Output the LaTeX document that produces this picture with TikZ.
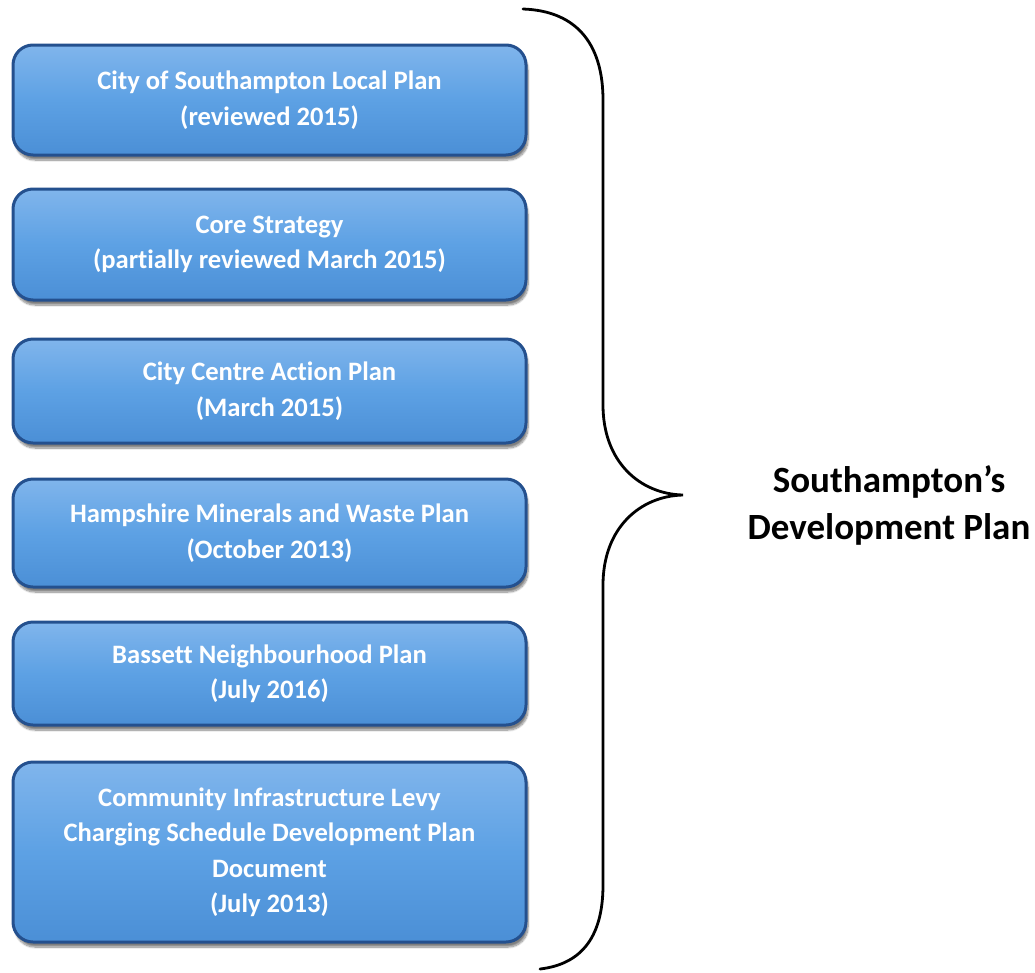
\documentclass[tikz,border=0pt]{standalone}
\usepackage{fontspec}
\setmainfont[Ligatures=NoCommon]{Carlito}
\usetikzlibrary{shadows.blur}
\definecolor{boxborder}{HTML}{24508E}
\definecolor{boxtop}{HTML}{80B5EC}
\definecolor{boxmid}{HTML}{5DA1E4}
\definecolor{boxbot}{HTML}{4B8FD6}
\tikzset{
  planbox/.style={draw=boxborder, line width=3pt, rounded corners=20pt,
    top color=boxtop, bottom color=boxbot, middle color=boxmid,
    minimum width=513pt, inner sep=0pt, align=center, text=white,
    font=\fontsize{26.6}{35.5}\selectfont\bfseries,
    blur shadow={shadow xshift=2pt, shadow yshift=-5pt, shadow blur steps=10, shadow opacity=50}},
  bracepath/.style={draw=black, line width=2.8pt, line cap=round},
  planlabel/.style={align=center, font=\fontsize{37}{47}\selectfont\bfseries, text=black}
}
\begin{document}
\begin{tikzpicture}[x=1pt,y=-1pt]
\useasboundingbox (0,0) rectangle (1035,972);
\node[planbox, minimum height=110pt] (b1) at (269.5,100) {City of Southampton Local Plan\\(reviewed 2015)};
\node[planbox, minimum height=111pt] (b2) at (269.5,244.5) {Core Strategy\\(partially reviewed March 2015)};
\node[planbox, minimum height=104pt] (b3) at (269.5,391) {City Centre Action Plan\\(March 2015)};
\node[planbox, minimum height=108pt] (b4) at (269.5,533) {Hampshire Minerals and Waste Plan\\(October 2013)};
\node[planbox, minimum height=103pt] (b5) at (269.5,673.5) {Bassett Neighbourhood Plan\\(July 2016)};
\node[planbox, minimum height=180pt] (b6) at (269.5,852) {Community Infrastructure Levy\\Charging Schedule Development Plan\\Document\\(July 2013)};
\coordinate (btop) at (523,9);
\coordinate (btip) at (683,495);
\coordinate (bbot) at (540,969);
\draw[bracepath] (btop) .. controls (580,11) and (603,48) .. (603,100)
  -- (603,405) .. controls (603,462) and (640,494) .. (btip)
  .. controls (640,496) and (603,528) .. (603,585)
  -- (603,885) .. controls (603,935) and (583,964) .. (bbot);
\node[planlabel] (lbl) at (889,505) {Southampton’s\\Development Plan};
\end{tikzpicture}
\end{document}
